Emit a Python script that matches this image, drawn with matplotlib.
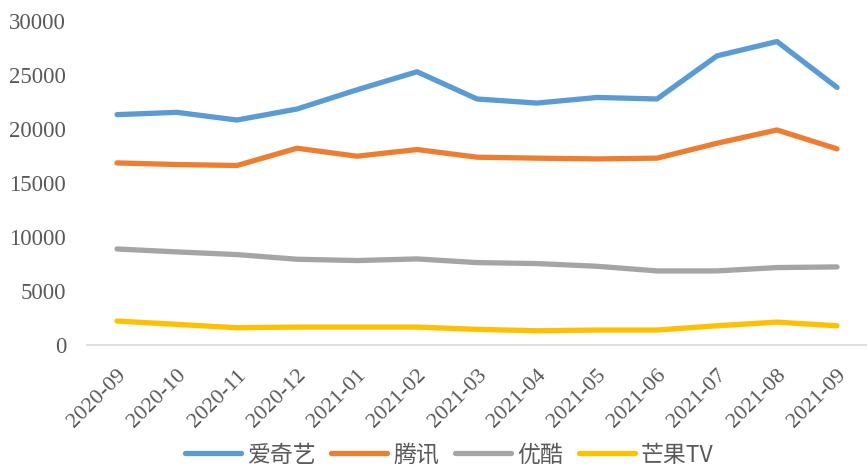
import matplotlib
matplotlib.use("Agg")
import matplotlib.pyplot as plt

months = ["2020-09", "2020-10", "2020-11", "2020-12", "2021-01", "2021-02", "2021-03",
          "2021-04", "2021-05", "2021-06", "2021-07", "2021-08", "2021-09"]
iqiyi = [21330, 21540, 20830, 21850, 23630, 25300, 22780, 22400, 22920, 22780, 26770, 28100, 23850]
tencent = [16860, 16710, 16620, 18220, 17480, 18100, 17390, 17300, 17230, 17300, 18680, 19910, 18160]
youku = [8890, 8620, 8370, 7940, 7820, 7970, 7630, 7540, 7290, 6860, 6860, 7170, 7230]
mango = [2220, 1910, 1600, 1660, 1660, 1660, 1450, 1320, 1385, 1385, 1780, 2120, 1780]
series_names = ["爱奇艺", "腾讯", "优酷", "芒果TV"]
colors = ["#5B9BD5", "#ED7D31", "#A5A5A5", "#FFC000"]
yticks = [0, 5000, 10000, 15000, 20000, 25000, 30000]

plt.rcParams['font.family'] = ['Liberation Serif', 'Noto Sans CJK SC', 'DejaVu Sans']

fig = plt.figure(figsize=(8.67, 4.66), dpi=100)
ax = fig.add_axes([87/867, 1 - 345/466, 1 - 87/867, (345 - 21)/466])

x = list(range(len(months)))
for vals, name, c in zip([iqiyi, tencent, youku, mango], series_names, colors):
    ax.plot(x, vals, color=c, lw=3.8, label=name, solid_capstyle='round', solid_joinstyle='round')

ax.set_xlim(-0.5, len(months) - 0.5)
ax.set_ylim(0, 30000)
ax.set_yticks(yticks)
ax.set_yticklabels([str(v) for v in yticks], fontsize=16.5, color="#595959")
ax.set_xticks(x)
ax.set_xticklabels(months, rotation=45, ha='right', rotation_mode='anchor', fontsize=16, color="#595959")
ax.tick_params(axis='both', length=0)
ax.tick_params(axis='y', pad=15)
ax.tick_params(axis='x', pad=15)
for s in ['top', 'right', 'left']:
    ax.spines[s].set_visible(False)
ax.spines['bottom'].set_color("#D9D9D9")
ax.spines['bottom'].set_linewidth(1.2)

leg = fig.legend(loc='center', ncol=4, frameon=False,
                 handlelength=2.44, handletextpad=0.26, columnspacing=0.7,
                 prop={'family': ['Noto Sans CJK SC'], 'size': 16.5},
                 bbox_to_anchor=(0.518, 1 - 455/466), bbox_transform=fig.transFigure)
for t in leg.get_texts():
    t.set_color("#595959")

fig.savefig("out.png", dpi=100)
